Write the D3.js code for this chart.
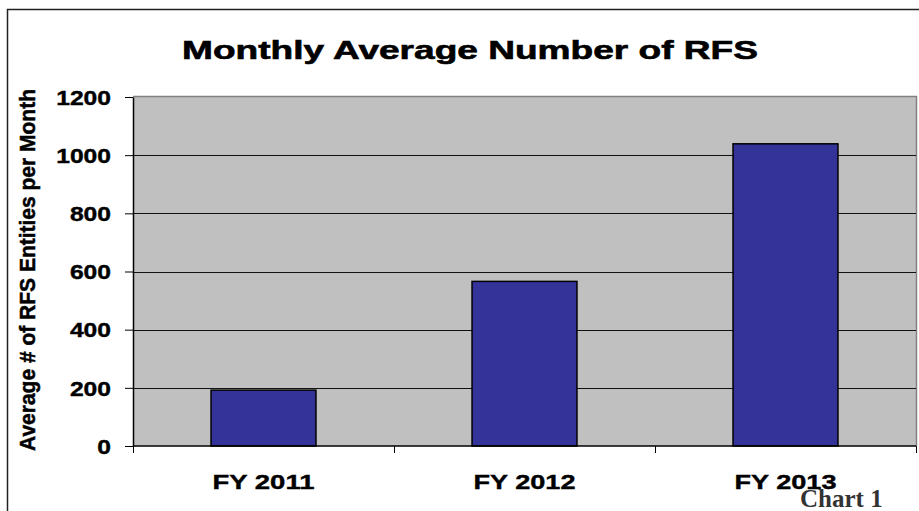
<!DOCTYPE html>
<html>
<head>
<meta charset="utf-8">
<script src="https://cdn.jsdelivr.net/npm/d3@7"></script>
<style>
  body { margin: 0; background: #fff; }
  text { font-family: "Liberation Sans", Arial, sans-serif; font-weight: bold; }
</style>
</head>
<body>
<div id="chart"></div>
<script>
// chart data
var categories = ["FY 2011", "FY 2012", "FY 2013"];
var values = [192, 566, 1039];
var yTicks = [0, 200, 400, 600, 800, 1000, 1200];

var width = 919,
    height = 511;

var svg = d3.select("#chart")
    .append("svg")
    .attr("width", width)
    .attr("height", height);

// outer frame (right and bottom edges run off the picture)
svg.append("rect")
    .attr("x", 7.5).attr("y", 9.5)
    .attr("width", 1000).attr("height", 1000)
    .attr("fill", "none")
    .attr("stroke", "#222")
    .attr("stroke-width", 1.5);

var plotLeft = 133, plotRight = 916, plotTop = 97, plotBottom = 446;

var x = d3.scaleBand()
    .domain(categories)
    .range([plotLeft, plotRight])
    .paddingInner(0.598)
    .paddingOuter(0.299);

var y = d3.scaleLinear()
    .domain([0, 1200])
    .range([plotBottom, plotTop]);

// plot area
svg.append("rect")
    .attr("x", plotLeft).attr("y", plotTop)
    .attr("width", plotRight - plotLeft).attr("height", plotBottom - plotTop)
    .attr("fill", "#c0c0c0");

// plot area border on top and right
svg.append("path")
    .attr("d", "M" + plotLeft + "," + (plotTop - 0.5) + "H" + (plotRight + 0.5) + "V" + plotBottom)
    .attr("fill", "none")
    .attr("stroke", "#808080")
    .attr("stroke-width", 1.5);

// gridlines
svg.selectAll(".grid")
    .data(yTicks.filter(function(d) { return d > 0 && d < 1200; }))
    .enter()
    .append("line")
    .attr("x1", plotLeft).attr("x2", plotRight)
    .attr("y1", function(d) { return Math.round(y(d)) + 0.5; })
    .attr("y2", function(d) { return Math.round(y(d)) + 0.5; })
    .attr("stroke", "#111")
    .attr("stroke-width", 1);

// bars
svg.selectAll(".bar")
    .data(values)
    .enter()
    .append("rect")
    .attr("x", function(d, i) { return x(categories[i]); })
    .attr("y", function(d) { return y(d); })
    .attr("width", x.bandwidth())
    .attr("height", function(d) { return plotBottom - y(d); })
    .attr("fill", "#333399")
    .attr("stroke", "#000")
    .attr("stroke-width", 1.5);

// y axis
var yAxis = svg.append("g")
    .attr("transform", "translate(" + plotLeft + ",0)")
    .call(d3.axisLeft(y).tickValues(yTicks).tickFormat(d3.format("d"))
        .tickSize(8).tickPadding(14).tickSizeOuter(0));
yAxis.select(".domain").attr("stroke", "#000").attr("stroke-width", 1.5);
yAxis.selectAll(".tick line").attr("stroke", "#000");
yAxis.selectAll(".tick text")
    .attr("fill", "#000")
    .style("font-size", "20px")
    .style("stroke", "#000")
    .style("stroke-width", "0.4px")
    .attr("dy", "0.36em")
    .attr("textLength", function(d) { return String(d).length * 13.7; })
    .attr("lengthAdjust", "spacingAndGlyphs");

// x axis: ticks sit on the category boundaries
var xAxis = svg.append("g")
    .attr("transform", "translate(0," + plotBottom + ")");
xAxis.append("line")
    .attr("x1", plotLeft).attr("x2", plotRight)
    .attr("stroke", "#000").attr("stroke-width", 1.5);
var bounds = [plotLeft].concat(categories.map(function(c) { return x(c) - x.step() * x.paddingInner() / 2 + x.step(); }));
xAxis.selectAll(".xt")
    .data(bounds)
    .enter()
    .append("line")
    .attr("x1", function(d) { return Math.round(d) + 0.5; })
    .attr("x2", function(d) { return Math.round(d) + 0.5; })
    .attr("y1", 0).attr("y2", 7)
    .attr("stroke", "#000");
xAxis.selectAll(".xl")
    .data(categories)
    .enter()
    .append("text")
    .attr("x", function(d) { return x(d) + x.bandwidth() / 2; })
    .attr("y", 43)
    .attr("text-anchor", "middle")
    .style("font-size", "21px")
    .style("stroke", "#000")
    .style("stroke-width", "0.4px")
    .attr("textLength", 102)
    .attr("lengthAdjust", "spacingAndGlyphs")
    .text(function(d) { return d; });

// title
svg.append("text")
    .attr("x", 470)
    .attr("y", 59)
    .attr("text-anchor", "middle")
    .style("font-size", "26px")
    .style("stroke", "#000")
    .style("stroke-width", "0.6px")
    .attr("textLength", 576)
    .attr("lengthAdjust", "spacingAndGlyphs")
    .text("Monthly Average Number of RFS");

// y axis title
svg.append("text")
    .attr("transform", "translate(35,270) rotate(-90)")
    .attr("text-anchor", "middle")
    .style("font-size", "22px")
    .style("stroke", "#000")
    .style("stroke-width", "0.5px")
    .attr("textLength", 362)
    .attr("lengthAdjust", "spacingAndGlyphs")
    .text("Average # of RFS Entities per Month");

// footer note
svg.append("text")
    .attr("x", 800)
    .attr("y", 507)
    .style("font-family", "'Liberation Serif', 'Times New Roman', serif")
    .style("font-size", "25px")
    .attr("fill", "#333")
    .text("Chart 1");
</script>
</body>
</html>
